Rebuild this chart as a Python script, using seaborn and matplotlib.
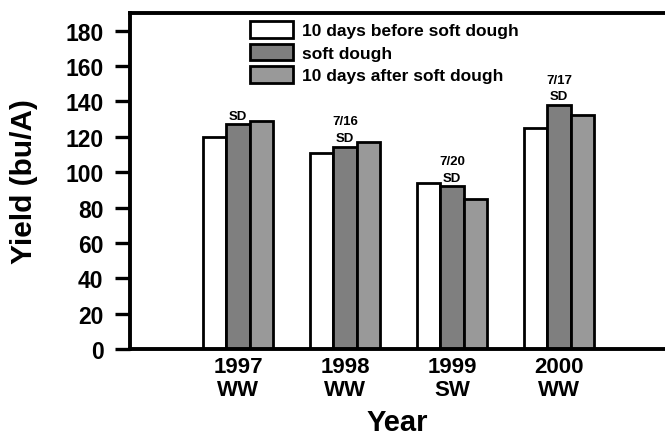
import matplotlib
matplotlib.use("Agg")
import matplotlib.pyplot as plt
import seaborn as sns
import pandas as pd

years = ["1997\nWW", "1998\nWW", "1999\nSW", "2000\nWW"]
timings = ["10 days before soft dough", "soft dough", "10 days after soft dough"]
before_sd = [120, 111, 94, 125]
soft_dough = [127, 114.5, 92, 138]
after_sd = [129, 117, 85, 132.5]
sd_labels = ["SD", "7/16\nSD", "7/20\nSD", "7/17\nSD"]
colors = ["#ffffff", "#7f7f7f", "#999999"]

rows = []
for t, vals in zip(timings, [before_sd, soft_dough, after_sd]):
    for y, v in zip(years, vals):
        rows.append({"Year": y, "Timing": t, "Yield": v})
df = pd.DataFrame(rows)

sns.set_style("white")
plt.rcParams["font.family"] = ["Liberation Sans", "DejaVu Sans"]
plt.rcParams["font.weight"] = "bold"
for k in ["text.color", "axes.labelcolor", "xtick.color", "ytick.color"]:
    plt.rcParams[k] = "black"

fig = plt.figure(figsize=(6.65, 4.39), dpi=100)
ax = fig.add_axes([130 / 665, 1 - 350 / 439, 535 / 665, 336 / 439])

sns.barplot(data=df, x="Year", y="Yield", hue="Timing", order=years,
            hue_order=timings, palette=colors, width=0.66, gap=0,
            edgecolor="black", linewidth=2.0, saturation=1, ax=ax, legend=True)

ax.set_ylim(0, 190)
ax.set_yticks(range(0, 181, 20))
ax.set_xlim(-1.01, 3.99)

for s in ["left", "top", "bottom"]:
    ax.spines[s].set_linewidth(2.8)
    ax.spines[s].set_color("black")
ax.spines["right"].set_visible(False)

ax.tick_params(axis="y", length=11, width=2.4, labelsize=16.5, pad=8, direction="out", left=True)
ax.tick_params(axis="x", length=0, labelsize=16, pad=5)
for lab in ax.get_xticklabels() + ax.get_yticklabels():
    lab.set_fontweight("bold")
for lab in ax.get_xticklabels():
    lab.set_linespacing(1.1)

ax.set_ylabel("Yield (bu/A)", fontsize=21.5, fontweight="bold", labelpad=20)
ax.set_xlabel("Year", fontsize=21, fontweight="bold", labelpad=6)

ax.bar_label(ax.containers[1], labels=sd_labels, fontsize=9.5, fontweight="bold",
             padding=2, linespacing=1.5)

leg = ax.legend(loc="upper left", bbox_to_anchor=(0.224, 0.976), frameon=False,
                fontsize=12.5, handlelength=2.5, handleheight=1.1,
                labelspacing=0.3, handletextpad=0.5, borderaxespad=0, borderpad=0)
for txt in leg.get_texts():
    txt.set_fontweight("bold")
for h in leg.legend_handles:
    h.set_edgecolor("black")
    h.set_linewidth(2.0)

fig.savefig("out.png", dpi=100)
